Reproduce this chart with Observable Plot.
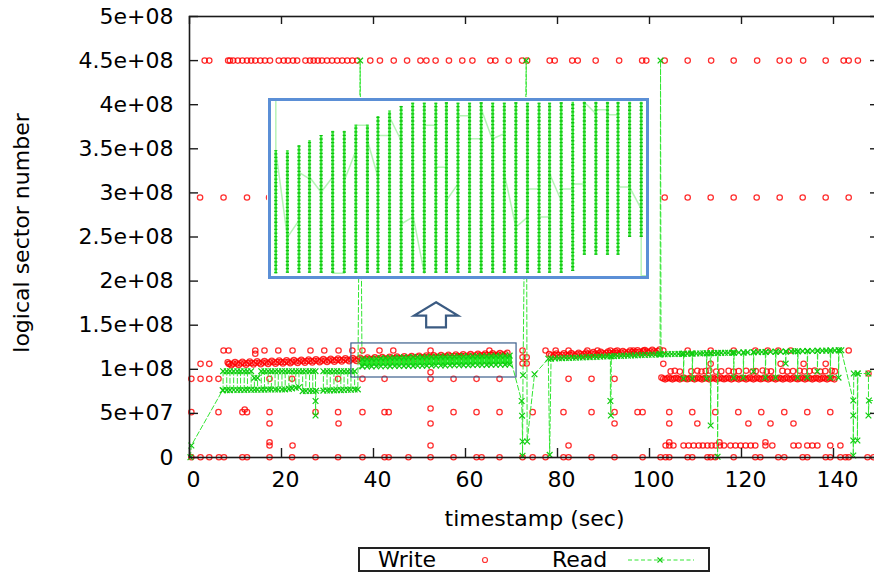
<!DOCTYPE html>
<html><head><meta charset="utf-8">
<script src="https://cdn.jsdelivr.net/npm/d3@7"></script>
<script src="https://cdn.jsdelivr.net/npm/@observablehq/plot@0.6"></script>
<style>
html,body{margin:0;padding:0;background:#fff;overflow:hidden}
#wrap{position:relative;width:874px;height:573px;font-family:"DejaVu Sans",sans-serif}
#inset{position:absolute;left:267px;top:97px}
#legend{position:absolute;left:358px;top:547px;width:348px;height:21px;border:2px solid #222;background:#fff}
#legend span{position:absolute;top:0;font:22px/22px "DejaVu Sans",sans-serif;color:#000}
#legend svg{position:absolute;left:0;top:0}
</style></head><body><div id="wrap"></div>
<script>
// ---------- axis ticks ----------
const xTicks = [0, 20, 40, 60, 80, 100, 120, 140];
const xTickLabels = ["0", "20", "40", "60", "80", "100", "120", "140"];
const yTicks = [0, 50, 100, 150, 200, 250, 300, 350, 400, 450, 500]; // millions of sectors
const yTickLabels = ["0", "5e+07", "1e+08", "1.5e+08", "2e+08", "2.5e+08", "3e+08", "3.5e+08", "4e+08", "4.5e+08", "5e+08"];

// ---------- Write requests: isolated points grouped by sector level (millions) ----------
const writeLevels = [
  {lba: 450, t: [3.3,4.3,8.4,8.8,9.5,10.5,11.5,12.5,13.4,14.3,15.4,16.4,17.5,19.4,20.5,21.4,22.5,23.4,25.2,26.2,27.0,27.9,28.8,29.9,31.0,32.1,33.2,34.3,35.4,36.5,39.3,41.4,44.4,47.3,50.2,51.5,53.5,56.4,59.3,61.5,65.4,66.5,69.4,72.3,73.4,78.3,79.4,83.2,84.4,88.3,93.4,98.4,99.3,103.3,108.3,113.4,118.3,123.4,128.3,130.3,133.4,138.3,142.2,143.3,145.3]},
  {lba: 294.8, t: [2.3,7.4,12.5,17.3,103.3,108.3,113.3,118.3,123.3,128.3,133.3,138.3,143.3]},
  {lba: 121.3, t: [7.4,8.5,14.3,16.3,19.3,22.4,26.3,29.3,32.4,35.4,37.6,41.3,44.3,52.4,65.2,72.4,77.4,79.6,82.4,86.5,88.7,91.5,93.0,96.5,98.7,103.0,108.3,113.3,118.3,123.0,125.7,128.0,130.7,143.3]},
  {lba: 106.2, t: [2.4,4.3,8.5,103.0,113.3,128.5,133.5,138.3]},
  {lba: 89.2, t: [0.4,2.4,4.3,6.3,17.4,22.3,32.3,37.6,42.4,52.4,57.4,62.4,67.4,82.4,87.4,92.4]},
  {lba: 89.6, t: [103.0,103.8,104.6,105.4,106.2,107.0,107.8,108.6,109.4,110.2,111.0,111.8,112.6,113.4,114.2,115.0,115.8,116.6,117.4,118.2,119.0,119.8,120.6,121.4,122.2,123.0,123.8,124.6,125.4,126.2,127.0,127.8,128.6,129.4,130.2,131.0,131.8,132.6,133.4,134.2,135.0,135.8,136.6,137.4,138.2,139.0,139.8]},
  {lba: 51.4, t: [0.4,6.3,11.5,12.5,17.4,27.4,32.3,37.6,42.4,43.3,57.4,62.4,67.4,74.6,81.3,87.4,92.4,97.4,98.5,104.3,109.3,114.3,119.3,124.3,129.3,134.3,139.3]},
  {lba: 38.5, t: [17.4,32.4,52.4,92.4,104.3,110.4,121.5,126.3,131.3]},
  {lba: 17.3, t: [17.4,104.3,115.2,125.2]},
  {lba: 13.6, t: [17.4,22.4,52.4,82.4,103.5,104.3,105.2,107.4,108.5,109.6,110.7,111.6,112.6,113.5,114.4,115.3,116.2,117.6,118.7,119.8,120.9,122.0,123.0,125.2,126.7,131.3,132.4,134.3,135.4,136.5,139.3,141.5]},
  {lba: 0.3, t: [0.4,2.4,4.3,6.4,7.5,11.5,12.5,17.4,22.3,27.4,32.3,37.6,42.4,43.3,47.6,52.4,57.4,62.4,63.5,67.4,72.4,74.6,77.4,81.3,82.4,87.4,92.4,98.5,102.4,103.5,104.3,108.3,109.3,112.6,113.3,114.3,118.3,123.0,124.1,128.0,129.3,133.3,134.3,138.3,139.3,141.5,142.6,143.3,147.4,148.7]}
];
const writeExtra = [[12.0,54.4],[52.4,55.6],[52.4,96.7],[14.3,117.6],[72.4,106.6],[73.3,106.6],[72.4,113.7],[73.3,113.7],[147.6,95.2]];

// dense write streams [t, lba(M)]
const writeBand1 = [[8.3,108.0],[9.1,104.7],[9.9,108.2],[10.7,105.0],[11.5,108.5],[12.3,105.3],[13.1,108.8],[13.9,105.5],[14.7,109.1],[15.5,105.8],[16.3,109.4],[17.1,106.1],[17.9,109.7],[18.7,106.4],[19.5,109.9],[20.3,106.7],[21.1,110.2],[21.9,107.0],[22.7,110.5],[23.5,107.2],[24.3,110.8],[25.1,107.5],[25.9,111.1],[26.7,107.8],[27.5,111.4],[28.3,108.1],[29.1,111.6],[29.9,108.4],[30.7,111.9],[31.5,108.7],[32.3,112.2],[33.1,108.9],[33.9,112.5],[34.7,109.2],[35.5,112.8],[36.3,109.5],[37.1,113.0],[37.9,109.8],[38.7,113.3],[39.5,110.1],[40.3,113.6],[41.1,110.4],[41.9,113.9],[42.7,110.6],[43.5,114.2],[44.3,110.9],[45.1,114.5],[45.9,111.2],[46.7,114.7],[47.5,111.5],[48.3,115.0],[49.1,111.8],[49.9,115.3],[50.7,112.1],[51.5,115.6],[52.3,112.3],[53.1,115.9],[53.9,112.6],[54.7,116.2],[55.5,112.9],[56.3,116.4],[57.1,113.2],[57.9,116.7],[58.7,113.5],[59.5,117.0],[60.3,113.8],[61.1,117.3],[61.9,114.0],[62.7,117.6],[63.5,114.3],[64.3,117.9],[65.1,114.6],[65.9,118.1],[66.7,114.9],[67.5,118.4],[68.3,115.2],[69.1,118.7]];
const writeBand1b = [[8.7,106.3],[9.5,106.4],[10.3,106.6],[11.1,106.7],[11.9,106.9],[12.7,107.0],[13.5,107.1],[14.3,107.3],[15.1,107.4],[15.9,107.6],[16.7,107.7],[17.5,107.9],[18.3,108.0],[19.1,108.1],[19.9,108.3],[20.7,108.4],[21.5,108.6],[22.3,108.7],[23.1,108.8],[23.9,109.0],[24.7,109.1],[25.5,109.3],[26.3,109.4],[27.1,109.6],[27.9,109.7],[28.7,109.8],[29.5,110.0],[30.3,110.1],[31.1,110.3],[31.9,110.4],[32.7,110.5],[33.5,110.7],[34.3,110.8],[35.1,111.0],[35.9,111.1],[36.7,111.3],[37.5,111.4],[38.3,111.5],[39.1,111.7],[39.9,111.8],[40.7,112.0],[41.5,112.1],[42.3,112.2],[43.1,112.4],[43.9,112.5],[44.7,112.7],[45.5,112.8],[46.3,113.0],[47.1,113.1],[47.9,113.2],[48.7,113.4],[49.5,113.5],[50.3,113.7],[51.1,113.8],[51.9,113.9],[52.7,114.1],[53.5,114.2],[54.3,114.4],[55.1,114.5],[55.9,114.7],[56.7,114.8],[57.5,114.9],[58.3,115.1],[59.1,115.2],[59.9,115.4],[60.7,115.5],[61.5,115.6],[62.3,115.8],[63.1,115.9],[63.9,116.1],[64.7,116.2],[65.5,116.4],[66.3,116.5],[67.1,116.6],[67.9,116.8],[68.7,116.9]];
const writeBand2 = [[78.2,117.4],[79.0,114.2],[79.8,117.8],[80.6,114.5],[81.4,118.1],[82.2,114.9],[83.0,118.5],[83.8,115.2],[84.6,118.8],[85.4,115.6],[86.2,119.1],[87.0,115.9],[87.8,119.5],[88.6,116.2],[89.4,119.8],[90.2,116.6],[91.0,120.1],[91.8,116.9],[92.6,120.5],[93.4,117.2],[94.2,120.8],[95.0,117.6],[95.8,121.1],[96.6,117.9],[97.4,121.5],[98.2,118.2],[99.0,121.8],[99.8,118.6],[100.6,122.1],[101.4,118.9],[102.2,122.5]];
const writeBand2b = [[78.6,115.8],[79.4,116.0],[80.2,116.2],[81.0,116.3],[81.8,116.5],[82.6,116.7],[83.4,116.8],[84.2,117.0],[85.0,117.2],[85.8,117.3],[86.6,117.5],[87.4,117.7],[88.2,117.8],[89.0,118.0],[89.8,118.2],[90.6,118.3],[91.4,118.5],[92.2,118.7],[93.0,118.8],[93.8,119.0],[94.6,119.2],[95.4,119.3],[96.2,119.5],[97.0,119.7],[97.8,119.9],[98.6,120.0],[99.4,120.2],[100.2,120.4],[101.0,120.5],[101.8,120.7]];
const writeBand3 = [[102.6,90.6],[103.4,88.6],[104.2,90.6],[105.0,88.6],[105.8,90.4],[106.6,88.6],[107.4,90.6],[108.2,88.8],[109.0,90.6],[109.8,88.6],[110.6,90.6],[111.4,88.6],[112.2,90.4],[113.0,88.6],[113.8,90.6],[114.6,88.6],[115.4,90.6],[116.2,88.8],[117.0,90.6],[117.8,88.6],[118.6,90.6],[119.4,88.6],[120.2,90.4],[121.0,88.6],[121.8,90.6],[122.6,88.6],[123.4,90.6],[124.2,88.8],[125.0,90.6],[125.8,88.6],[126.6,90.6],[127.4,88.6],[128.2,90.4],[129.0,88.6],[129.8,90.6],[130.6,88.6],[131.4,90.6],[132.2,88.8],[133.0,90.6],[133.8,88.6],[134.6,90.6],[135.4,88.6],[136.2,90.4],[137.0,88.6],[137.8,90.6],[138.6,88.6],[139.4,90.6],[140.2,88.6]];
const writeBand4 = [[104.6,97.6],[105.5,98.3],[106.6,97.4],[109.1,97.8],[110.4,98.4],[111.3,97.5],[112.2,97.9],[113.0,98.5],[114.5,97.4],[115.6,97.8],[117.2,98.2],[118.3,97.3],[119.4,97.9],[121.0,98.4],[122.4,97.5],[123.1,97.9],[124.6,98.6],[125.5,97.4],[126.4,97.8],[128.9,98.2],[130.0,97.5],[131.2,97.9],[132.6,98.4],[133.7,97.6],[134.8,98.0],[135.9,98.5],[137.1,97.5],[138.2,97.9],[139.6,98.3],[140.3,97.6]];

// ---------- Read requests, in time order [t, lba(M)] ----------
const readStart = [[0.2,0.3],[0.4,13.6],[7.2,76.3]];
const readPhase1 = [[7.3,76.3],[7.3,97.9],[8.1,97.9],[8.1,76.4],[8.8,76.4],[8.8,97.9],[9.6,97.9],[9.6,76.5],[10.4,76.5],[10.4,97.9],[11.1,97.9],[11.1,76.6],[11.9,76.6],[11.9,97.9],[12.6,97.9],[12.6,76.7],[13.4,76.7],[13.4,97.9],[14.1,90.2],[14.1,76.8],[14.8,76.8],[14.8,90.2],[15.6,97.9],[15.6,76.9],[16.3,76.9],[16.3,97.9],[17.1,97.9],[17.1,77.0],[17.8,77.0],[17.8,97.9],[18.6,97.9],[18.6,77.1],[19.3,77.1],[19.3,97.9],[20.1,97.9],[20.1,77.2],[20.8,77.2],[20.8,97.9],[21.6,97.9],[21.6,77.8],[22.3,78.4],[22.3,97.9],[23.1,97.9],[23.1,79.0],[23.8,79.6],[23.8,97.9],[24.6,97.9],[24.6,75.2],[25.3,75.3],[25.3,97.9],[26.1,97.9],[26.1,75.4],[26.8,75.5],[26.8,97.9],[27.4,97.9],[27.4,64.1],[27.4,47.6],[27.5,75.6],[29.1,75.8],[29.1,97.9],[29.9,97.9],[29.9,75.9],[30.6,76.0],[30.6,97.9],[31.4,97.9],[31.4,76.1],[32.1,76.2],[32.1,97.9],[32.9,97.9],[32.9,76.4],[33.6,76.5],[33.6,97.9],[34.4,97.9],[34.4,76.7],[35.1,76.8],[35.1,97.9],[35.9,97.9],[35.9,77.0],[36.6,77.2],[37.1,450],[37.5,104.0]];
// dense alternating stream 37.6-69.6 s: one column per burst
const readBandT  = [37.6,38.6,39.6,40.6,41.6,42.6,43.6,44.6,45.6,46.6,47.6,48.6,49.6,50.6,51.6,52.6,53.6,54.6,55.6,56.6,57.6,58.6,59.6,60.6,61.6,62.6,63.6,64.6,65.6,66.6,67.6,68.6,69.6];
const readBandLo = [103.2,103.3,103.3,103.4,103.5,103.5,103.6,103.7,103.7,103.8,103.9,103.9,104.0,104.1,104.1,104.2,104.3,104.3,104.4,104.5,104.5,104.6,104.7,104.7,104.8,104.9,104.9,105.0,105.1,105.1,105.2,105.3,105.4];
const readBandHi = [111.5,111.7,112.0,112.3,112.6,112.9,113.0,113.2,113.3,113.5,113.7,113.9,114.0,114.0,114.1,114.2,114.3,114.4,114.4,114.5,114.6,114.7,114.8,114.8,114.9,115.0,115.0,115.1,115.2,115.3,115.3,115.4,115.5];
const readMid = [[72.2,64.1],[72.3,47.4],[72.4,18.1],[72.4,2.0],[72.5,93.3],[73.2,450],[73.4,18.1],[75.0,94.4]];
const readPhase2 = [[78.0,112.0],[78.3,3.0],[78.6,112.1],[79.5,112.3],[80.3,112.5],[81.0,112.6],[81.8,112.8],[82.5,112.9],[83.3,113.1],[84.0,113.2],[84.8,113.4],[85.5,113.5],[86.3,113.7],[87.0,113.8],[87.8,114.0],[88.5,114.1],[89.3,114.3],[90.0,114.4],[90.8,114.6],[91.5,114.7],[91.5,64.1],[91.6,47.6],[91.7,114.7],[92.3,114.9],[93.0,115.0],[93.8,115.2],[94.5,115.3],[95.3,115.5],[96.0,115.6],[96.8,115.8],[97.5,115.9],[98.3,116.1],[99.0,116.2],[99.8,116.4],[100.5,116.5],[101.3,116.7],[102.0,116.8],[102.3,116.9],[102.4,450],[102.5,117.0]];
const readPhase3 = [[103.3,117.1],[104.0,117.2],[104.8,117.3],[105.5,117.4],[106.3,117.5],[107.0,117.5],[107.4,117.6],[107.4,89.5],[107.5,117.6],[108.2,117.7],[109.0,117.8],[109.3,117.8],[109.3,89.5],[109.4,117.8],[110.2,117.9],[111.0,118.0],[111.7,118.1],[112.4,118.2],[112.4,89.5],[112.5,118.2],[113.2,118.3],[113.3,36.3],[113.4,118.3],[114.1,118.4],[114.8,118.5],[114.8,0.9],[114.9,118.5],[115.6,118.6],[116.4,118.7],[117.1,118.8],[117.9,118.8],[118.3,118.9],[118.3,90.5],[118.4,118.9],[119.4,119.0],[120.4,119.1],[120.4,90.5],[120.5,119.1],[121.3,119.2],[122.6,119.4],[122.6,97.5],[122.7,119.4],[123.6,119.5],[124.4,119.6],[125.2,119.7],[125.2,90.5],[125.3,119.7],[126.3,119.8],[127.4,119.9],[127.4,90.5],[127.5,119.9],[128.5,120.0],[129.6,120.2],[129.6,106.5],[129.7,120.2],[130.8,120.3],[131.6,120.4],[132.2,120.5],[132.2,90.5],[132.3,120.5],[133.3,120.6],[134.3,120.7],[134.3,90.5],[134.4,120.7],[135.4,120.8],[136.5,121.0],[136.5,97.5],[136.6,121.0],[137.6,121.1],[138.4,121.2],[139.3,121.3],[139.3,90.5],[139.4,121.3],[140.3,121.4],[141.1,121.5],[141.1,90.5],[141.2,121.5],[141.7,121.6]];
const readEnd = [[144.3,64.6],[144.3,47.6],[144.3,19.3],[144.3,2.3],[144.4,95.2],[145.2,95.2],[145.2,19.3],[145.3,95.2],[147.6,95.2],[147.6,47.6],[147.7,64.6],[149.5,64.6]];

// ---------- annotations ----------
const zoomWindow = {t0: 35.2, t1: 71.1, lo: 90.7, hi: 129.3};
const arrowAt = {t: 53.6, lba: 162};

// ---------- magnified inset (same units as the zoom window) ----------
const insetT = [35.8,36.9,38.0,39.0,40.1,41.2,42.3,43.4,44.5,45.5,46.6,47.7,48.8,49.9,51.0,52.0,53.1,54.2,55.3,56.4,57.5,58.6,59.7,60.8,61.8,62.9,64.0,65.1,66.2,67.3,68.3,69.4,70.5];
const insetTop = [118.2,118.2,119.3,120.4,121.5,122.4,122.4,123.7,123.7,125.6,126.8,127.8,128.5,128.5,128.5,128.6,128.5,128.5,128.6,128.5,128.5,128.6,128.5,128.5,128.5,128.6,128.7,128.7,128.7,128.7,128.7,128.7,128.7];
const insetBottom = [91.5,91.6,91.6,91.6,91.6,91.6,91.6,91.6,91.6,91.6,91.6,91.6,91.6,91.6,91.6,91.6,91.6,91.6,91.6,91.6,91.6,91.6,91.6,91.6,91.6,91.6,92.0,95.5,95.5,95.5,95.5,99.4,99.4];
const insetIn  = [129.1,99.4,103.1,112.1,109.2,112.5,91.6,118.2,123.7,112.5,121.5,120.4,103.8,91.6,123.7,114.6,111.0,125.8,120.8,120.4,121.9,101.6,103.8,109.9,103.8,107.4,109.9,111.0,126.2,127.1,126.0,110.3,105.6];
const insetOut = [118.2,99.4,113.5,112.5,109.2,91.6,111.7,123.7,120.4,121.5,125.5,102.3,104.5,123.7,114.6,107.4,125.8,120.8,127.3,120.8,113.2,101.6,109.9,103.8,113.2,109.9,111.0,128.7,127.1,126.0,110.3,110.3,91.1];
const insetTail = [70.9, 91.1];

// ---------- build tables ----------
const pair = ([t, lba]) => ({t, lba});
const writeAll = [
  ...writeLevels.flatMap(l => l.t.map(t => ({t, lba: l.lba}))),
  ...writeExtra.map(pair), ...writeBand1.map(pair), ...writeBand1b.map(pair),
  ...writeBand2.map(pair), ...writeBand2b.map(pair),
  ...writeBand3.map(pair), ...writeBand4.map(pair)
];
const readBand = readBandT.map((t, i) => ({t, lo: readBandLo[i], hi: readBandHi[i]}));
const readBandSeq = readBand.flatMap((d, i) => i % 2 === 0
  ? [{t: d.t, lba: d.lo}, {t: d.t, lba: d.hi}]
  : [{t: d.t, lba: d.hi}, {t: d.t, lba: d.lo}]);
const readAll = [
  ...readStart.map(pair), ...readPhase1.map(pair), ...readBandSeq,
  ...readMid.map(pair), ...readPhase2.map(pair), ...readPhase3.map(pair), ...readEnd.map(pair)
];
const insetCols = insetT.map((t, i) => ({t, top: insetTop[i], bottom: insetBottom[i]}));
const insetPath = [...insetT.flatMap((t, i) => [{t, v: insetIn[i]}, {t, v: insetOut[i]}]), {t: insetTail[0], v: insetTail[1]}];

// hollow block-arrow marker shape
const arrowSymbol = {draw(ctx, size) {
  const r = Math.sqrt(size / Math.PI);
  const a = -0.56 * r, b = 0.045 * r, c = 0.58 * r, s = 0.45 * r;
  ctx.moveTo(0, a); ctx.lineTo(r, b); ctx.lineTo(s, b); ctx.lineTo(s, c);
  ctx.lineTo(-s, c); ctx.lineTo(-s, b); ctx.lineTo(-r, b); ctx.closePath();
}};

// ---------- main chart ----------
const W = 874, H = 545, mL = 189, mT = 16, mB = H - 457, mR = -5;
const plotW = W - mR - mL, plotH = H - mB - mT;
const axisColor = "#1a1a1a";
const font = "DejaVu Sans";

const chart = Plot.plot({
  width: W, height: H, marginLeft: mL, marginRight: mR, marginTop: mT, marginBottom: mB,
  x: {domain: [0, 150], axis: null},
  y: {domain: [0, 500], axis: null},
  style: {fontFamily: font, fontSize: "22px", background: "white", color: "#000"},
  marks: [
    Plot.dot(writeAll, {x: "t", y: "lba", r: 2.7, fill: "none", stroke: "#ff0000", strokeWidth: 1.25, strokeOpacity: 0.82}),
    Plot.ruleX(readBand, {x: "t", y1: "lo", y2: "hi", stroke: "#22e822", strokeWidth: 4.4}),
    Plot.line(readAll, {x: "t", y: "lba", stroke: "#33e633", strokeWidth: 1, strokeDasharray: "5,2.5"}),
    Plot.dot(readAll, {x: "t", y: "lba", symbol: "times", r: 2.7, stroke: "#10cc10", strokeWidth: 1.2}),
    Plot.rect([zoomWindow], {x1: "t0", x2: "t1", y1: "lo", y2: "hi", fill: "none", stroke: "#3c5f8c", strokeWidth: 1.2}),
    Plot.dot([arrowAt], {x: "t", y: "lba", symbol: arrowSymbol, r: 22, fill: "white", stroke: "#3b5b82", strokeWidth: 2.2}),
    Plot.frame({stroke: axisColor, strokeWidth: 1.6}),
    Plot.tickX(xTicks, {x: d => d, stroke: axisColor, strokeWidth: 1.4, insetTop: plotH - 9}),
    Plot.tickX(xTicks, {x: d => d, stroke: axisColor, strokeWidth: 1.4, insetBottom: plotH - 8}),
    Plot.tickY(yTicks, {y: d => d, stroke: axisColor, strokeWidth: 1.4, insetRight: plotW - 9}),
    Plot.tickY(yTicks, {y: d => d, stroke: axisColor, strokeWidth: 1.4, insetLeft: plotW - 9}),
    Plot.text(xTicks, {x: d => d, text: (d, i) => xTickLabels[i], frameAnchor: "bottom", lineAnchor: "top", dy: 14, dx: 4, fontSize: 22, fill: "#000"}),
    Plot.text(yTicks, {y: d => d, text: (d, i) => yTickLabels[i], frameAnchor: "left", textAnchor: "end", dx: -16, fontSize: 22, fill: "#000"}),
    Plot.text(["timestamp (sec)"], {frameAnchor: "bottom", textAnchor: "middle", lineAnchor: "middle", dy: 61, fontSize: 22, fill: "#000"}),
    Plot.text(["logical sector number"], {frameAnchor: "left", textAnchor: "middle", rotate: -90, lineAnchor: "middle", dx: -168, dy: -4, fontSize: 22, fill: "#000"})
  ]
});

// ---------- inset ----------
const inset = Plot.plot({
  width: 382, height: 182, margin: 2,
  x: {domain: [zoomWindow.t0, zoomWindow.t1], axis: null},
  y: {domain: [zoomWindow.lo, zoomWindow.hi], axis: null},
  style: {background: "white"},
  marks: [
    Plot.frame({fill: "white"}),
    Plot.line(insetPath, {x: "t", y: "v", stroke: "#b6f3b6", strokeWidth: 1.5}),
    Plot.ruleX(insetCols, {x: "t", y1: "bottom", y2: "top", stroke: "#40ea40", strokeWidth: 2.4}),
    Plot.ruleX(insetCols, {x: "t", y1: "bottom", y2: "top", stroke: "#10c010", strokeWidth: 3.2, strokeDasharray: "1.3,2.3"}),
    Plot.frame({stroke: "#5b8fd6", strokeWidth: 3})
  ]
});

const wrap = document.getElementById("wrap");
wrap.appendChild(chart);
const insetDiv = document.createElement("div");
insetDiv.id = "inset";
insetDiv.appendChild(inset);
wrap.appendChild(insetDiv);

// ---------- legend ----------
const legendItems = [{label: "Write", left: 18}, {label: "Read", left: 192}];
const legend = document.createElement("div");
legend.id = "legend";
legend.innerHTML = `<svg width="348" height="21">
  <circle cx="125" cy="11" r="2.5" fill="none" stroke="#ff0000" stroke-opacity="0.8" stroke-width="1.2"/>
  <line x1="268" x2="334" y1="11" y2="11" stroke="#33e633" stroke-dasharray="4,2.5"/>
  <path d="M297.5,8.5L302.5,13.5M302.5,8.5L297.5,13.5" stroke="#10cc10" stroke-width="1.1"/>
</svg>` + legendItems.map(d => `<span style="left:${d.left}px">${d.label}</span>`).join("");
wrap.appendChild(legend);
</script>
</body></html>
